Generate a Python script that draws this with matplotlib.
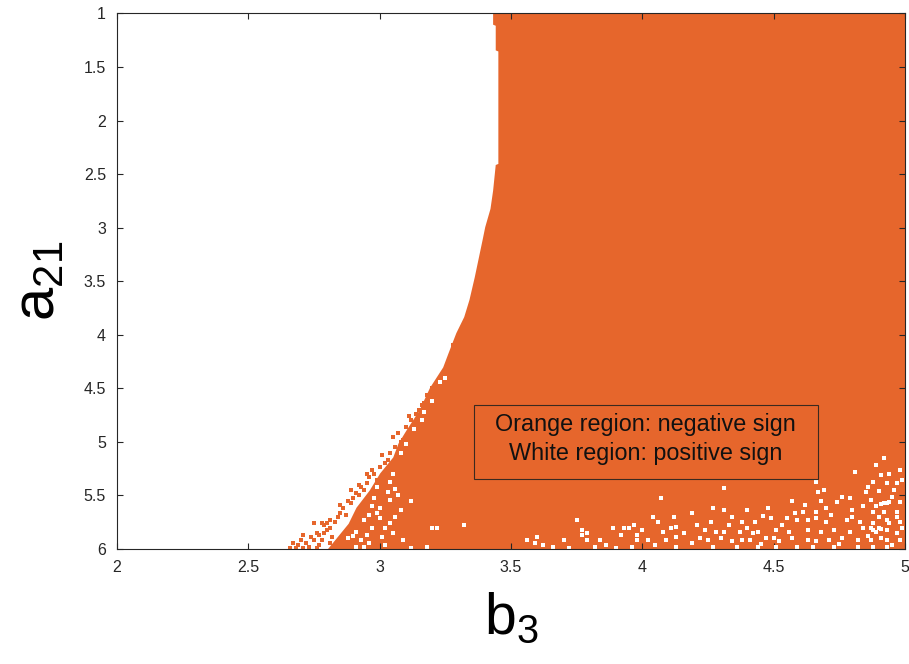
import matplotlib
matplotlib.use("Agg")
import matplotlib.pyplot as plt
from matplotlib.patches import Rectangle

plt.rcParams['font.family'] = ['Liberation Sans', 'DejaVu Sans']
plt.rcParams['mathtext.fontset'] = 'custom'
plt.rcParams['mathtext.rm'] = 'Liberation Sans'
plt.rcParams['mathtext.it'] = 'Liberation Sans'

ORANGE = '#E6662C'
EDGE = '#262626'

# sign boundary: for each a21 the b3 value where the sign turns negative
edge_a21 = [1.00, 1.10, 1.11, 1.34, 1.35, 2.40, 2.41, 2.65, 2.82, 2.99, 3.11,
            3.46, 3.67, 3.83, 3.98, 4.17, 4.30, 4.49, 4.70, 4.89, 5.01, 5.14,
            5.29, 5.45, 5.61, 5.76, 6.00]
edge_b3 = [3.43, 3.43, 3.44, 3.44, 3.45, 3.45, 3.44, 3.43, 3.42, 3.40, 3.39,
           3.36, 3.34, 3.32, 3.29, 3.26, 3.24, 3.19, 3.15, 3.10, 3.07, 3.05,
           3.00, 2.96, 2.91, 2.88, 2.80]

# isolated negative cells left of the boundary
neg_b3 = [3.18, 3.17, 3.15, 3.12, 3.13, 3.10, 3.07, 3.09, 3.06, 3.08, 3.03,
          3.00, 2.97, 2.99, 2.95, 2.93, 2.91, 2.89, 2.85, 2.81, 2.78, 2.75,
          2.80, 2.76, 2.71, 2.70, 2.67, 2.66, 2.73, 2.77, 2.72, 2.75, 2.77,
          2.82, 2.79, 2.81,
          3.04, 3.02, 2.98, 2.96, 2.94, 2.92, 2.90, 2.88, 2.86, 2.87, 2.84,
          2.83, 2.80, 2.79, 2.74, 2.69, 2.71, 2.76, 2.78, 2.81, 2.68, 2.85,
          2.89, 2.92, 2.95, 3.01, 3.05, 3.11, 3.14, 3.16, 3.20, 3.22, 3.24,
          3.26, 3.28]
neg_a21 = [4.56, 4.64, 4.70, 4.80, 4.82, 4.86, 4.92, 4.98, 5.05, 5.00, 5.17,
           5.23, 5.26, 5.36, 5.38, 5.42, 5.48, 5.57, 5.66, 5.73, 5.76, 5.76,
           5.82, 5.85, 5.87, 5.92, 5.94, 5.99, 5.98, 5.96, 5.94, 5.92, 5.87,
           5.89, 5.78, 5.80,
           5.10, 5.20, 5.30, 5.33, 5.45, 5.50, 5.52, 5.55, 5.62, 5.68, 5.70,
           5.75, 5.76, 5.85, 5.89, 5.96, 5.99, 5.99, 5.92, 5.94, 5.99, 5.59,
           5.45, 5.40, 5.30, 5.12, 4.95, 4.76, 4.74, 4.66, 4.50, 4.46, 4.36,
           4.26, 4.10]

# isolated positive cells inside the negative region
pos_b3 = [3.23, 3.17, 3.00, 3.04, 3.07, 2.99, 3.04, 2.94, 2.96, 3.00, 2.91,
          2.95, 2.93, 2.91, 3.04, 3.09, 3.08, 3.01, 3.20, 3.22, 3.32, 3.12,
          3.18, 2.94, 3.06, 2.88,
          2.97, 2.99, 3.02, 2.97, 2.90, 2.96, 3.02, 3.05, 3.03, 2.98, 3.05,
          3.08, 3.10, 3.13, 3.16, 3.20, 3.25, 3.12, 3.06,
          4.07, 3.75, 4.04, 4.12, 4.06, 4.19, 4.21, 3.60, 3.56, 3.59, 3.66,
          3.77, 3.79, 3.77, 3.79, 3.82, 3.72, 3.89, 3.93, 3.95, 3.97, 3.98,
          4.02, 3.98, 3.96, 4.08, 4.11, 4.13, 4.09, 4.13, 4.13, 3.90, 4.19,
          3.62, 3.70, 3.84, 3.86, 3.92, 4.00, 4.05, 4.16, 4.22, 4.24,
          4.81, 4.89, 4.92, 4.98, 4.91, 4.88, 4.93, 4.97, 4.66, 4.31, 4.67,
          4.85, 4.90, 4.95, 4.76, 4.74, 4.87, 4.93, 4.94, 4.92, 4.98, 4.91,
          4.27, 4.31, 4.40, 4.48, 4.61, 4.66, 4.70, 4.80, 4.88, 4.92, 4.97,
          4.26, 4.33, 4.38, 4.43, 4.49, 4.55, 4.59, 4.63, 4.66, 4.70, 4.78,
          4.83, 4.88, 4.93, 4.98,
          4.28, 4.31, 4.37, 4.44, 4.51, 4.56, 4.63, 4.68, 4.73, 4.79, 4.84,
          4.87, 4.89, 4.93, 4.97, 4.90, 4.91, 4.88,
          4.25, 4.30, 4.34, 4.41, 4.47, 4.52, 4.57, 4.63, 4.66, 4.71, 4.76,
          4.82, 4.87, 4.93, 4.98,
          4.27, 4.36, 4.44, 4.51, 4.59, 4.65, 4.73, 4.82, 4.88, 4.93,
          4.34, 4.40, 4.46, 4.53, 4.58, 4.62, 4.68, 4.72, 4.75, 4.80, 4.84,
          4.86, 4.90, 4.91, 4.94, 4.95, 4.96, 4.99, 4.94, 4.86, 4.79, 4.69,
          4.57, 4.50, 4.45, 4.38, 4.42, 4.99, 4.97, 4.89]
pos_a21 = [4.44, 4.72, 5.62, 5.54, 5.50, 5.42, 5.37, 5.73, 5.68, 5.71, 5.84,
           5.87, 5.92, 5.98, 5.76, 5.92, 5.64, 5.89, 5.80, 5.80, 5.78, 5.99,
           5.98, 5.98, 5.44, 5.90,
           5.60, 5.66, 5.80, 5.80, 5.88, 5.94, 5.96, 5.85, 5.47, 5.52, 5.30,
           5.10, 5.02, 4.88, 4.80, 4.62, 4.40, 5.55, 5.70,
           5.52, 5.73, 5.70, 5.70, 5.75, 5.66, 5.78, 5.89, 5.92, 5.94, 5.98,
           5.82, 5.85, 5.87, 5.92, 5.98, 5.99, 5.80, 5.80, 5.80, 5.78, 5.87,
           5.92, 5.92, 5.98, 5.84, 5.80, 5.79, 5.92, 5.89, 5.98, 5.99, 5.94,
           5.96, 5.92, 5.92, 5.96, 5.87, 5.82, 5.96, 5.85, 5.90, 5.82,
           5.28, 5.22, 5.15, 5.26, 5.31, 5.37, 5.38, 5.38, 5.37, 5.43, 5.47,
           5.47, 5.46, 5.51, 5.51, 5.56, 5.54, 5.57, 5.56, 5.57, 5.56, 5.58,
           5.62, 5.64, 5.64, 5.62, 5.65, 5.65, 5.62, 5.64, 5.65, 5.65, 5.65,
           5.75, 5.78, 5.75, 5.75, 5.71, 5.71, 5.73, 5.73, 5.71, 5.75, 5.73,
           5.75, 5.76, 5.73, 5.75,
           5.84, 5.84, 5.84, 5.84, 5.82, 5.84, 5.82, 5.84, 5.82, 5.84, 5.80,
           5.80, 5.84, 5.82, 5.85, 5.80, 5.81, 5.82,
           5.92, 5.90, 5.93, 5.92, 5.90, 5.93, 5.90, 5.92, 5.93, 5.92, 5.90,
           5.92, 5.92, 5.92, 5.92,
           5.98, 5.98, 5.98, 5.98, 5.98, 5.98, 5.98, 5.98, 5.98, 5.98,
           5.70, 5.80, 5.69, 5.78, 5.66, 5.59, 5.55, 5.68, 5.95, 5.70, 5.60,
           5.88, 5.70, 5.90, 5.76, 5.96, 5.45, 5.36, 5.30, 5.42, 5.52, 5.45,
           5.55, 5.90, 5.95, 5.92, 5.85, 5.80, 5.70, 5.60]

x_ticks = [2, 2.5, 3, 3.5, 4, 4.5, 5]
x_tick_labels = ['2', '2.5', '3', '3.5', '4', '4.5', '5']
y_ticks = [1, 1.5, 2, 2.5, 3, 3.5, 4, 4.5, 5, 5.5, 6]
y_tick_labels = ['1', '1.5', '2', '2.5', '3', '3.5', '4', '4.5', '5', '5.5', '6']

fig = plt.figure(figsize=(9.09, 6.64), dpi=100)
ax = fig.add_axes([0.1287, 0.1732, 0.8669, 0.8065])

# negative region to the right of the boundary
ax.fill_betweenx(edge_a21, edge_b3, 5.0, color=ORANGE, linewidth=0, zorder=1)
ax.scatter(neg_b3, neg_a21, marker='s', s=5, color=ORANGE, linewidths=0, zorder=2)
ax.scatter(pos_b3, pos_a21, marker='s', s=5, color='white', linewidths=0, zorder=2)

ax.set_xlim(2, 5)
ax.set_ylim(6, 1)
ax.set_xticks(x_ticks)
ax.set_xticklabels(x_tick_labels)
ax.set_yticks(y_ticks)
ax.set_yticklabels(y_tick_labels)
ax.tick_params(direction='in', length=4, width=0.8, colors=EDGE, labelsize=11.5,
               top=True, right=True, labelcolor='#262626', pad=8)
for sp in ax.spines.values():
    sp.set_color(EDGE)
    sp.set_linewidth(0.8)
    sp.set_zorder(5)

ax.set_xlabel(r'$\mathrm{b_3}$', fontsize=41, labelpad=12)
ax.set_ylabel(r'$\mathrm{a_{21}}$', fontsize=43, labelpad=12)

# legend box
ax.add_patch(Rectangle((3.359, 4.655), 1.309, 0.691, facecolor='none',
                       edgecolor='#3a2a20', linewidth=0.8, zorder=3))
ax.text(4.013, 4.97, 'Orange region: negative sign\nWhite region: positive sign',
        ha='center', va='center', fontsize=16.8, linespacing=1.35,
        color='#111111', zorder=4)

fig.savefig('out.png', dpi=100)
